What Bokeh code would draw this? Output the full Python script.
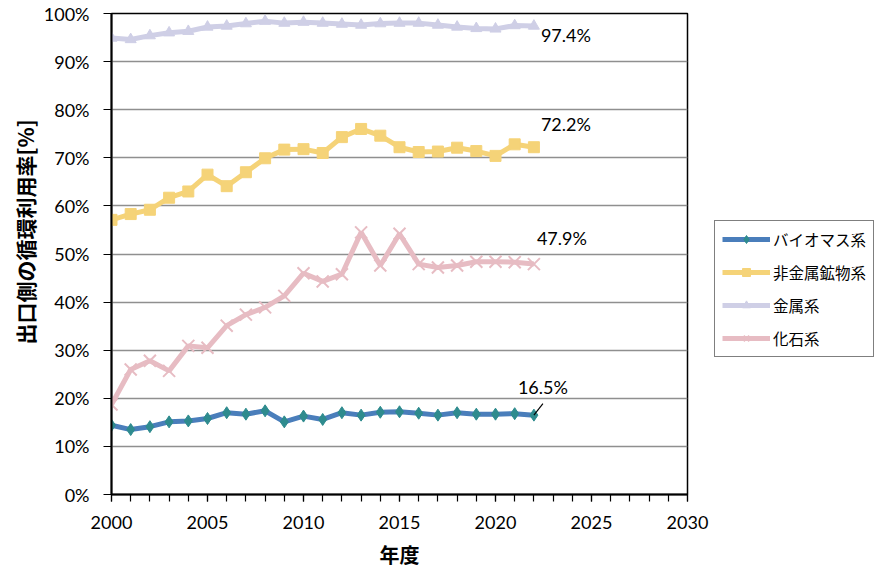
from bokeh.plotting import figure
from bokeh.models import (Range1d, SingleIntervalTicker, FixedTicker, PrintfTickFormatter,
                          Legend, LegendItem, ColumnDataSource, Title)
from bokeh.core.properties import value
from bokeh.embed import file_html
from bokeh.resources import INLINE

years = list(range(2000, 2023))
biomass = [14.4, 13.5, 14.1, 15.1, 15.3, 15.8, 17.0, 16.7, 17.4, 15.1, 16.3, 15.6,
           17.0, 16.5, 17.1, 17.2, 16.9, 16.5, 17.0, 16.7, 16.7, 16.8, 16.5]
nonmetal = [57.1, 58.3, 59.2, 61.7, 63.0, 66.5, 64.1, 67.0, 69.9, 71.7, 71.8, 71.0,
            74.3, 76.0, 74.6, 72.2, 71.2, 71.3, 72.1, 71.4, 70.4, 72.8, 72.2]
metal = [94.9, 94.6, 95.4, 96.0, 96.3, 97.2, 97.4, 97.9, 98.4, 98.0, 98.2, 98.0,
         97.8, 97.6, 97.9, 98.0, 98.0, 97.6, 97.2, 96.9, 96.8, 97.5, 97.4]
fossil = [18.7, 26.0, 27.8, 25.7, 30.9, 30.5, 35.1, 37.4, 38.9, 41.3, 46.0, 44.3,
          45.8, 54.5, 47.6, 54.2, 47.9, 47.2, 47.6, 48.4, 48.4, 48.3, 47.9]
series_names = ["バイオマス系", "非金属鉱物系", "金属系", "化石系"]
end_labels = ["16.5%", "72.2%", "97.4%", "47.9%"]
y_ticks = [0, 10, 20, 30, 40, 50, 60, 70, 80, 90, 100]

NUM_FONT = "Lato"
JP_FONT = "Noto Sans CJK JP"
NUM_SIZE = "18px"

p = figure(frame_width=576, frame_height=481, output_backend="svg", toolbar_location=None,
           x_range=Range1d(2000, 2030), y_range=Range1d(0, 100),
           min_border_left=111, min_border_right=182, min_border_top=13, min_border_bottom=74)
p.background_fill_color = "white"
p.border_fill_color = "white"
p.outline_line_color = "black"
p.outline_line_width = 1.5

# grid
p.xgrid.grid_line_color = None
p.ygrid.grid_line_color = "#8f8f8f"
p.ygrid.grid_line_width = 1.5
p.ygrid.ticker = FixedTicker(ticks=y_ticks)

# x axis
p.xaxis.ticker = SingleIntervalTicker(interval=5, num_minor_ticks=5)
p.xaxis.axis_line_color = "black"
p.xaxis.axis_line_width = 2
p.xaxis.major_tick_line_color = "black"
p.xaxis.minor_tick_line_color = "black"
p.xaxis.major_tick_line_width = 1.2
p.xaxis.minor_tick_line_width = 1.2
p.xaxis.major_tick_in = 0
p.xaxis.major_tick_out = 7
p.xaxis.minor_tick_in = 0
p.xaxis.minor_tick_out = 7
p.xaxis.major_label_text_font = NUM_FONT
p.xaxis.major_label_text_font_size = NUM_SIZE
p.xaxis.major_label_text_color = "black"
p.xaxis.major_label_standoff = 14
p.xaxis.axis_label = "年度"
p.xaxis.axis_label_text_font = JP_FONT
p.xaxis.axis_label_text_font_style = "bold"
p.xaxis.axis_label_text_font_size = "20px"
p.xaxis.axis_label_text_color = "black"
p.xaxis.axis_label_standoff = 8

# y axis
p.yaxis.ticker = FixedTicker(ticks=y_ticks)
p.yaxis.formatter = PrintfTickFormatter(format="%d%%")
p.yaxis.axis_line_color = "black"
p.yaxis.axis_line_width = 2
p.yaxis.major_tick_line_color = "black"
p.yaxis.major_tick_line_width = 1.2
p.yaxis.major_tick_in = 0
p.yaxis.major_tick_out = 8
p.yaxis.minor_tick_line_color = None
p.yaxis.major_label_text_font = NUM_FONT
p.yaxis.major_label_text_font_size = NUM_SIZE
p.yaxis.major_label_text_color = "black"
p.yaxis.major_label_standoff = 14

ytitle = Title(text="出口側の循環利用率[%]", align="left", offset=150,
               text_font=JP_FONT, text_font_style="bold", text_font_size="21px",
               text_color="black", standoff=1)
p.add_layout(ytitle, "left")

src = ColumnDataSource(dict(x=years, bio=biomass, nm=nonmetal, me=metal, fo=fossil))

lw = 5
r_bio_l = p.line("x", "bio", source=src, line_color="#4a7ebb", line_width=lw)
r_bio_m = p.scatter("x", "bio", source=src, marker="diamond", size=12,
                    fill_color="#2e8b8e", line_color="#2e8b8e")
r_nm_l = p.line("x", "nm", source=src, line_color="#f5d378", line_width=lw)
r_nm_m = p.scatter("x", "nm", source=src, marker="square", size=11,
                   fill_color="#f5d378", line_color="#f5d378")
r_me_l = p.line("x", "me", source=src, line_color="#cfcfe6", line_width=lw)
r_me_m = p.scatter("x", "me", source=src, marker="triangle", size=11,
                   fill_color="#cfcfe6", line_color="#cfcfe6")
r_fo_l = p.line("x", "fo", source=src, line_color="#e7bcc3", line_width=lw)
r_fo_m = p.scatter("x", "fo", source=src, marker="x", size=17,
                   line_color="#e7bcc3", line_width=2)

# end value labels
last_x = years[-1]
lab_vals = [biomass[-1], nonmetal[-1], metal[-1], fossil[-1]]
x_offs = [-16, 7, 7, 3]
y_offs = [-28, -23, 9, -26]
for txt, yv, xo, yo in zip(end_labels, lab_vals, x_offs, y_offs):
    p.text(x=[last_x], y=[yv], text=[txt], x_offset=xo, y_offset=yo,
           text_font=value(NUM_FONT), text_font_size=NUM_SIZE, text_color="black",
           text_align="left", text_baseline="middle")
# leader line for biomass label
p.segment(x0=[last_x], y0=[biomass[-1]], x1=[last_x + 0.47], y1=[biomass[-1] + 2.4],
          line_color="black", line_width=1.2)

legend = Legend(items=[
    LegendItem(label=series_names[0], renderers=[r_bio_l, r_bio_m]),
    LegendItem(label=series_names[1], renderers=[r_nm_l, r_nm_m]),
    LegendItem(label=series_names[2], renderers=[r_me_l, r_me_m]),
    LegendItem(label=series_names[3], renderers=[r_fo_l, r_fo_m]),
], location=(27, 137))
legend.label_text_font = JP_FONT
legend.label_text_font_size = "15.5px"
legend.label_text_color = "black"
legend.glyph_width = 48
legend.glyph_height = 20
legend.label_height = 20
legend.spacing = 11
legend.padding = 7
legend.margin = 0
legend.label_standoff = 3
legend.border_line_color = "black"
legend.border_line_width = 1
legend.background_fill_color = "white"
legend.background_fill_alpha = 1
p.add_layout(legend, "right")

open("out.html", "w").write(file_html(p, INLINE))
